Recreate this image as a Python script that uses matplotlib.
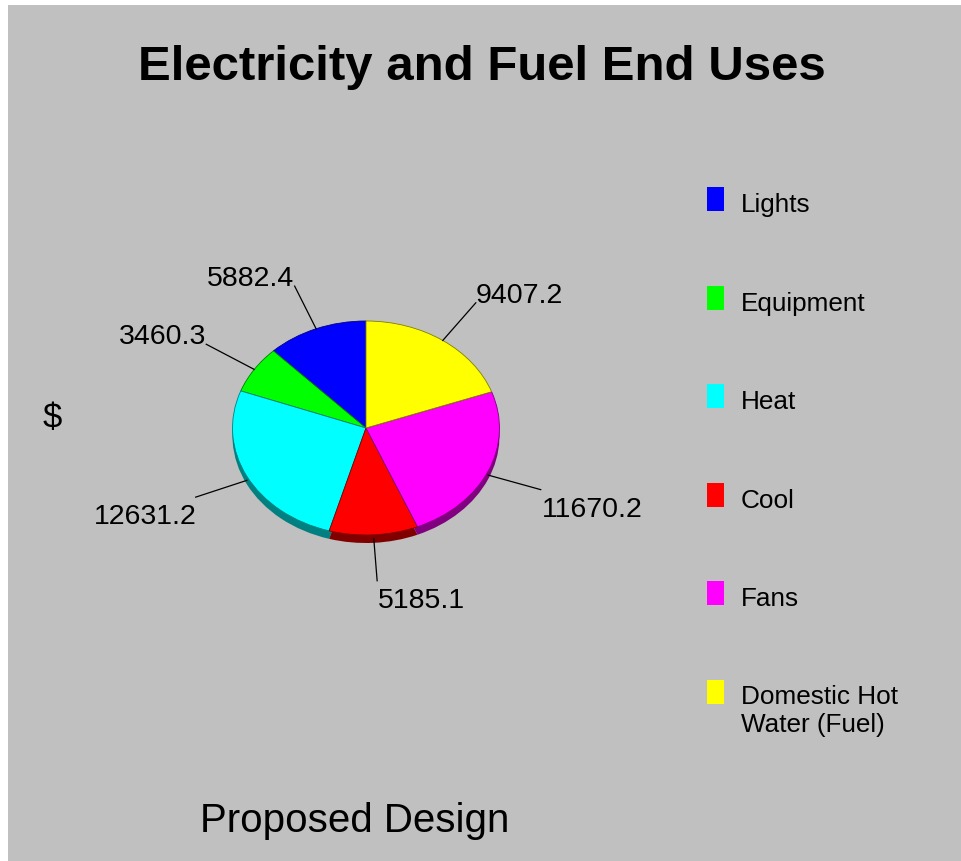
import numpy as np
import matplotlib.pyplot as plt
from matplotlib.patches import Rectangle
from matplotlib.transforms import offset_copy

plt.rcParams["font.family"] = ["Liberation Sans", "DejaVu Sans"]

# Chart data
categories = ["Lights", "Equipment", "Heat", "Cool", "Fans", "Domestic Hot\nWater (Fuel)"]
values = [5882.4, 3460.3, 12631.2, 5185.1, 11670.2, 9407.2]
colors = ["#0000ff", "#00ff00", "#00ffff", "#ff0000", "#ff00ff", "#ffff00"]
side_colors = ["#000080", "#008000", "#008080", "#800000", "#800080", "#808000"]

W, H = 961, 861
fig = plt.figure(figsize=(W / 100, H / 100), dpi=100, facecolor="white")

# gray panel with thin white strip top/left
fig.patches.append(Rectangle((8 / W, 0), 1 - 8 / W, 1 - 5 / H, transform=fig.transFigure,
                             facecolor="#c0c0c0", edgecolor="none", zorder=-10))

fig.text(482 / W, 1 - 67 / H, "Electricity and Fuel End Uses", ha="center", va="center",
         fontsize=35.4, fontweight="bold")
fig.text(52 / W, 1 - 418 / H, "$", ha="center", va="center", fontsize=25)
fig.text(355 / W, 1 - 821 / H, "Proposed Design", ha="center", va="center", fontsize=29)

# pie axes, sized so that the ellipse radii match the tilted pie
rx, ry = 133.5, 107
cx, cy = 366, 428
ax = fig.add_axes([(cx - 1.5 * rx) / W, (H - cy - 1.5 * ry) / H, 3 * rx / W, 3 * ry / H])
depth = 8 / ry

# side of the pie (shifted, darker)
ax.pie(values, colors=side_colors, startangle=90, counterclock=True, center=(0, -depth),
       wedgeprops=dict(edgecolor="none"))
wedges, _ = ax.pie(values, colors=colors, startangle=90, counterclock=True,
                   wedgeprops=dict(linewidth=0.6))
for w, ec in zip(wedges, side_colors):
    w.set_edgecolor(ec)

ax.set_aspect("auto")
ax.set_xlim(-1.5, 1.5)
ax.set_ylim(-1.5, 1.5)
ax.axis("off")

below = offset_copy(ax.transData, fig=fig, x=1, y=-7, units="dots")

# value labels with leader lines
total = sum(values)
start = 90.0
for v in values:
    ang = np.deg2rad(start + v / total * 360 / 2)
    start += v / total * 360
    x0, y0 = np.cos(ang), np.sin(ang)
    x1, y1 = 1.43 * x0, 1.43 * y0
    if y0 < 0:
        y0 -= depth * 0.5
    ax.plot([x0, x1], [y0, y1], color="black", linewidth=0.9, clip_on=False)
    ha = "left" if x1 >= 0 else "right"
    if y1 >= 0:
        ax.text(x1, y1, f"{v:.1f}", ha=ha, va="baseline", fontsize=20.5, clip_on=False)
    else:
        ax.text(x1, y1, f"{v:.1f}", ha=ha, va="top", fontsize=20.5, clip_on=False,
                transform=below)

# legend
for i, (name, c) in enumerate(zip(categories, colors)):
    yc = 199 + i * 98.5
    fig.patches.append(Rectangle((707 / W, 1 - (yc + 12) / H), 17 / W, 24 / H,
                                 transform=fig.transFigure, facecolor=c, edgecolor="none"))
    fig.text(741 / W, 1 - (yc - 6) / H, name, ha="left", va="top", fontsize=18.8,
             linespacing=1.2)

fig.savefig("out.png", dpi=100, facecolor=fig.get_facecolor())
